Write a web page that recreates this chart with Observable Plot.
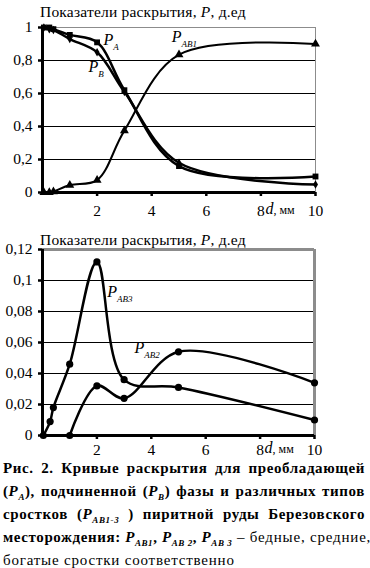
<!DOCTYPE html>
<html><head><meta charset="utf-8">
<script src="https://cdn.jsdelivr.net/npm/d3@7"></script>
<script src="https://cdn.jsdelivr.net/npm/@observablehq/plot@0.6"></script>
<style>
body{margin:0;background:#fff;width:370px;height:568px;position:relative;overflow:hidden;font-family:"Liberation Serif","Times New Roman",serif;color:#000;}
.title{position:absolute;left:40px;font-size:15.5px;line-height:16px;white-space:nowrap;letter-spacing:0.2px;z-index:2;}
.cap{position:absolute;left:3px;width:362px;font-size:15px;line-height:23px;}
.cap div{text-align:justify;text-align-last:justify;white-space:nowrap;height:23px;}
.cap div.last{text-align:left;text-align-last:left;}
.b{font-weight:bold;letter-spacing:0.6px;}
.r{font-weight:normal;letter-spacing:0.8px;}
sub{font-size:9px;font-style:italic;vertical-align:-4px;line-height:0;}
svg{overflow:visible;}
</style></head><body>
<div class="title" style="top:4px">Показатели раскрытия, <i>P</i>, д.ед</div>
<div id="c1" style="position:absolute;left:0;top:17px"></div>
<div class="title" style="top:232px">Показатели раскрытия, <i>P</i>, д.ед</div>
<div id="c2" style="position:absolute;left:0;top:239px"></div>
<div class="cap" style="top:457px">
<div class="b">Рис. 2. Кривые раскрытия для преобладающей</div>
<div class="b">(<i>P</i><sub>A</sub>), подчиненной (<i>P</i><sub>B</sub>) фазы и различных типов</div>
<div class="b">сростков (<i>P</i><sub>AB1-3</sub> ) пиритной руды Березовского</div>
<div><span class="b">месторождения: <i>P</i><sub>AB1</sub>, <i>P</i><sub>AB 2</sub>, <i>P</i><sub>AB 3</sub></span><span class="r"> – бедные, средние,</span></div>
<div class="last r">богатые сростки соответственно</div>
</div>
<script>
// ---- top chart data ----
const dTop = [0.05, 0.25, 0.4, 1, 2, 3, 5, 10];
const pA   = [1.0, 1.0, 0.99, 0.955, 0.91, 0.62, 0.16, 0.097];
const pB   = [1.0, 0.99, 0.985, 0.93, 0.85, 0.61, 0.18, 0.048];
const pAB1 = [0, 0, 0.005, 0.045, 0.075, 0.375, 0.835, 0.9];
const yTicksTop = [0, 0.2, 0.4, 0.6, 0.8, 1];
// ---- bottom chart data ----
const dAB3 = [0.03, 0.28, 0.4, 1, 2, 3, 5, 10];
const pAB3 = [0, 0.009, 0.018, 0.046, 0.112, 0.036, 0.031, 0.010];
const dAB2 = [1, 2, 3, 5, 10];
const pAB2 = [0, 0.032, 0.024, 0.054, 0.034];
const yTicksBot = [0, 0.02, 0.04, 0.06, 0.08, 0.1, 0.12];
const xTicks = [2, 4, 6, 8, 10];
const xLabel = "d, мм";
// curve labels
const labelsTop = [
  {sub: "A", x: 2.25, y: 0.89},
  {sub: "B", x: 1.7, y: 0.725},
  {sub: "AB1", x: 4.75, y: 0.91}
];
const labelsBot = [
  {sub: "AB3", x: 2.4, y: 0.089},
  {sub: "AB2", x: 3.4, y: 0.053}
];

const toRows = (xs, ys, s) => xs.map((x, i) => ({x, y: ys[i], s}));
const fmt = d => String(+d.toFixed(2)).replace(".", ",");
const FONT = "'Liberation Serif', 'Times New Roman', serif";

function addText(chart, labels, xAxisY) {
  const sx = chart.scale("x"), sy = chart.scale("y");
  const svg = d3.select(chart);
  for (const l of labels) {
    const t = svg.append("text").attr("x", sx.apply(l.x)).attr("y", sy.apply(l.y))
      .attr("text-anchor", "start").style("font-family", FONT)
      .attr("font-size", 16).attr("font-style", "italic");
    t.append("tspan").text("P");
    t.append("tspan").attr("font-size", 9).attr("dy", 5).text(l.sub);
  }
  const t = svg.append("text").attr("x", sx.apply(8) + 5).attr("y", sy.apply(0) + xAxisY)
    .attr("text-anchor", "start").style("font-family", FONT).attr("font-size", 15);
  t.append("tspan").attr("font-style", "italic").attr("font-size", 16).text(xLabel.slice(0, 1));
  t.append("tspan").attr("font-size", 12).text(xLabel.slice(1));
}

function common(yTicks, frameW, pad) {
  return [
    Plot.gridY(yTicks.slice(1, -1), {stroke: "#000", strokeOpacity: 1, strokeWidth: 1}),
    Plot.ruleY([yTicks[yTicks.length - 1]], {stroke: "#8c8c8c", strokeWidth: frameW}),
    Plot.ruleX([10], {stroke: "#8c8c8c", strokeWidth: frameW}),
    Plot.ruleX([0], {stroke: "#000", strokeWidth: 3}),
    Plot.ruleY([0], {stroke: "#000", strokeWidth: 3}),
    Plot.axisY({ticks: yTicks, tickFormat: fmt, tickSize: 4, tickPadding: 6, fontSize: 15.5, strokeWidth: 2.5, label: null}),
    Plot.axisX({ticks: xTicks, tickFormat: d => String(d), tickSize: 4, tickPadding: pad, fontSize: 15.5, strokeWidth: 2.5, label: null})
  ];
}

const topA = toRows(dTop, pA, "A"), topB = toRows(dTop, pB, "B"), topAB1 = toRows(dTop, pAB1, "AB1");
const c1 = Plot.plot({
  width: 370, height: 203,
  marginLeft: 42, marginRight: 55, marginTop: 10, marginBottom: 28,
  x: {domain: [0, 10]}, y: {domain: [0, 1]},
  style: {fontFamily: FONT, background: "transparent", color: "#000", overflow: "visible"},
  marks: [
    ...common(yTicksTop, 1, 8),
    Plot.line(topB, {x: "x", y: "y", curve: "catmull-rom", stroke: "#000", strokeWidth: 2.5}),
    Plot.line(topA, {x: "x", y: "y", curve: "catmull-rom", stroke: "#000", strokeWidth: 2.5}),
    Plot.line(topAB1, {x: "x", y: "y", curve: "catmull-rom", stroke: "#000", strokeWidth: 2}),
    Plot.dot(topA, {x: "x", y: "y", symbol: "square", r: 3.3, fill: "#000"}),
    Plot.dot(topB, {x: "x", y: "y", symbol: "diamond", r: 2.6, fill: "#000"}),
    Plot.dot(topAB1, {x: "x", y: "y", symbol: "triangle", r: 3.3, fill: "#000"})
  ]
});
addText(c1, labelsTop, 22);
document.getElementById("c1").append(c1);

const botAB3 = toRows(dAB3, pAB3, "AB3"), botAB2 = toRows(dAB2, pAB2, "AB2");
const c2 = Plot.plot({
  width: 370, height: 222,
  marginLeft: 42, marginRight: 56, marginTop: 10, marginBottom: 26,
  x: {domain: [0, 10]}, y: {domain: [0, 0.12]},
  style: {fontFamily: FONT, background: "transparent", color: "#000", overflow: "visible"},
  marks: [
    ...common(yTicksBot, 3, 4),
    Plot.line(botAB3, {x: "x", y: "y", curve: "catmull-rom", stroke: "#000", strokeWidth: 2.5}),
    Plot.line(botAB2, {x: "x", y: "y", curve: "catmull-rom", stroke: "#000", strokeWidth: 2.5}),
    Plot.dot(botAB3, {x: "x", y: "y", r: 3.6, fill: "#000"}),
    Plot.dot(botAB2, {x: "x", y: "y", r: 3.6, fill: "#000"})
  ]
});
addText(c2, labelsBot, 18);
document.getElementById("c2").append(c2);
</script>
</body></html>
